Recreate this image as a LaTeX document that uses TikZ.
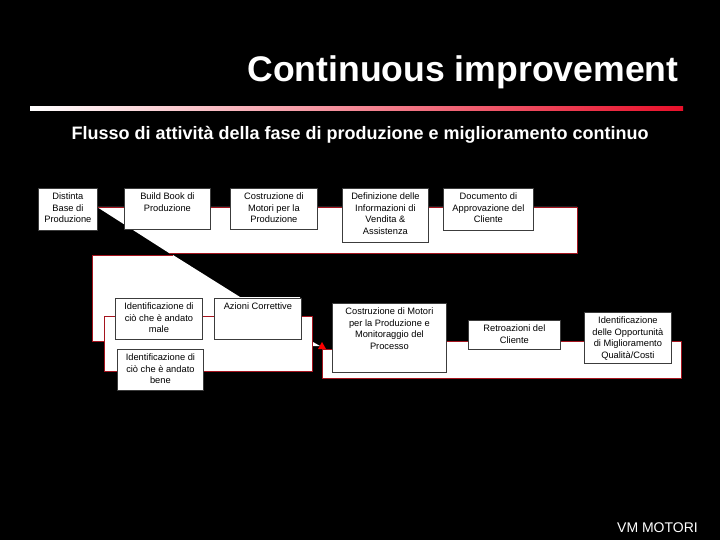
\documentclass[tikz,border=0pt]{standalone}
\usepackage{fontspec}
\setmainfont{Liberation Sans}
\definecolor{bandred}{RGB}{165,20,30}
\definecolor{linered}{RGB}{232,16,42}
\definecolor{boxline}{RGB}{60,60,60}
\tikzset{
  pbox/.style={draw=boxline, fill=white, line width=0.8pt, anchor=north west, inner sep=0pt},
  btxt/.style={anchor=north, align=center, inner sep=0pt, font=\fontsize{9.3}{11.5}\selectfont, text=black},
  bandedge/.style={draw=bandred, line width=0.9pt},
}
\newcommand\pbx[6]{%
  \node[pbox, minimum width={#4-#2}, minimum height={#5-#3}] (#1) at (#2,#3) {};
  \node[btxt] (#1t) at ([yshift=-5pt]#1.north) {#6};
}
\begin{document}
\begin{tikzpicture}[x=1pt,y=-1pt]
\fill[black] (0,0) rectangle (720,540);
\useasboundingbox (0,0) rectangle (720,540);

% title
\node[anchor=base east, text=white, font=\fontsize{35.6}{40}\selectfont\bfseries] (title) at (682,82) {Continuous improvement};
\shade[left color=white, right color=linered] (30,107) rectangle (683,111);
\node[anchor=base west, text=white, font=\fontsize{18}{20}\selectfont\bfseries] (sub) at (68,140) {Flusso di attività della fase di produzione e miglioramento continuo};

% bands
\fill[white] (97,207) -- (577,207) -- (577,253) -- (169,253) -- cycle;
\draw[bandedge] (97,207) -- (577,207) -- (577,253) -- (169,253);
\fill[white] (92,255) -- (173,255) -- (240,297) -- (300,297) -- (300,341) -- (92,341) -- cycle;
\draw[bandedge] (173,255) -- (92,255) -- (92,341) -- (300,341);
\filldraw[fill=white, bandedge] (104,316) rectangle (312,371);
\filldraw[fill=white, bandedge] (322,349) -- (340,349) -- (340,341) -- (681,341) -- (681,378) -- (322,378) -- cycle;
\fill[white] (313,342) -- (320,346) -- (313,346) -- cycle;
\fill[red] (318,349) -- (326,349) -- (322,342) -- cycle;

% top row
\pbx{b1}{38}{188}{97}{230}{Distinta\\Base di\\Produzione}
\pbx{b2}{124}{188}{210}{229}{Build Book di\\Produzione}
\pbx{b3}{230}{188}{317}{229}{Costruzione di\\Motori per la\\Produzione}
\pbx{b4}{342}{188}{428}{242}{Definizione delle\\Informazioni di\\Vendita \&\\Assistenza}
\pbx{b5}{443}{188}{533}{230}{Documento di\\Approvazione del\\Cliente}

% middle
\pbx{m1}{115}{298}{202}{339}{Identificazione di\\ciò che è andato\\male}
\pbx{m2}{214}{298}{301}{339}{Azioni Correttive}
\pbx{m3}{117}{349}{203}{390}{Identificazione di\\ciò che è andato\\bene}
\pbx{m4}{332}{303}{446}{372}{Costruzione di Motori\\per la Produzione e\\Monitoraggio del\\Processo}
\pbx{m5}{468}{320}{560}{349}{Retroazioni del\\Cliente}
\pbx{m6}{584}{312}{671}{363}{Identificazione\\delle Opportunità\\di Miglioramento\\Qualità/Costi}

\node[anchor=base, text=white, font=\fontsize{14}{16}\selectfont] (vm) at (657.5,532) {VM MOTORI};
\end{tikzpicture}
\end{document}
